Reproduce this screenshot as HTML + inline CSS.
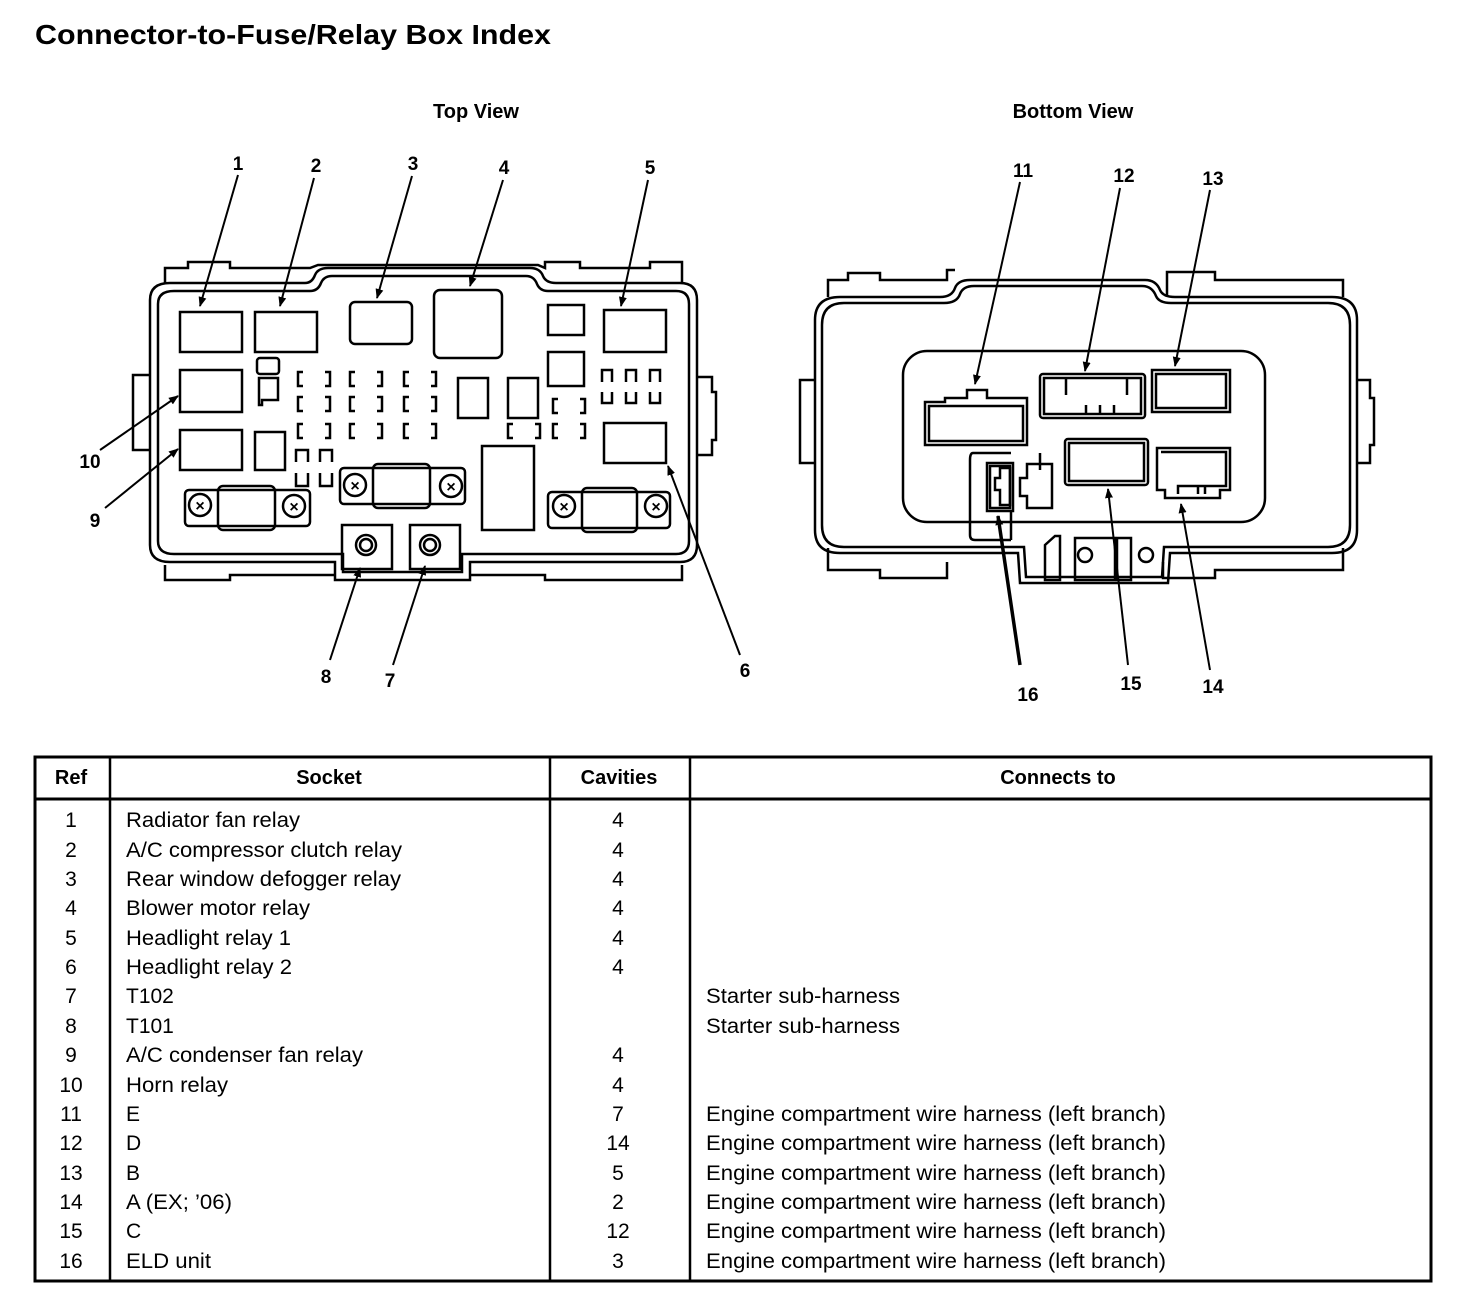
<!DOCTYPE html>
<html><head><meta charset="utf-8"><style>
html,body{margin:0;padding:0;background:#fff;}
svg{display:block;font-family:"Liberation Sans",Arial,sans-serif;}
</style></head><body>
<svg width="1472" height="1316" viewBox="0 0 1472 1316" xmlns="http://www.w3.org/2000/svg">
<defs><marker id="ah" markerWidth="10" markerHeight="10" refX="9" refY="5" orient="auto" markerUnits="userSpaceOnUse"><path d="M0,1 L10,5 L0,9 Z" fill="#000"/></marker></defs>
<text x="35" y="44" font-size="28" font-weight="bold" textLength="516" lengthAdjust="spacingAndGlyphs">Connector-to-Fuse/Relay Box Index</text>
<text x="476" y="118" font-size="20" font-weight="bold" text-anchor="middle">Top View</text>
<text x="1073" y="118" font-size="20" font-weight="bold" text-anchor="middle">Bottom View</text>

<!-- TOP VIEW -->
<g fill="none" stroke="#000" stroke-width="2.5">
<path d="M165,283 L165,268 L188,268 L188,262 L230,262 L230,268 L310,268 L318,265 L538,265 L545,268 L545,262 L580,262 L580,268 L650,268 L650,262 L682,262 L682,283"/>
<path d="M165,565 L165,580 L230,580 L230,575 L335,575 M470,575 L545,575 L545,580 L682,580 L682,565"/>
<path d="M170,283 L305,283 Q312,283 315,275 Q318,268 328,268 L530,268 Q540,268 543,276 Q546,283 556,283 L680,283 Q697,283 697,300 L697,545 Q697,562 680,562 L470,562 L470,580 L335,580 L335,562 L170,562 Q150,562 150,545 L150,300 Q150,283 170,283 Z"/>
<path d="M174,291 L310,291 Q318,291 321,283 Q324,276 332,276 L526,276 Q534,276 537,284 Q540,291 548,291 L676,291 Q689,291 689,304 L689,541 Q689,554 676,554 L462,554 L462,572 L343,572 L343,554 L174,554 Q158,554 158,541 L158,304 Q158,291 174,291 Z"/>
<path d="M150,375 L133,375 L133,450 L150,450"/>
<path d="M697,377 L712,377 L712,392 L716,392 L716,440 L712,440 L712,455 L697,455"/>
<rect x="180" y="312" width="62" height="40"/>
<rect x="255" y="312" width="62" height="40"/>
<rect x="350" y="302" width="62" height="42" rx="5"/>
<rect x="434" y="290" width="68" height="68" rx="6"/>
<rect x="548" y="305" width="36" height="30"/>
<rect x="548" y="352" width="36" height="34"/>
<rect x="604" y="310" width="62" height="42"/>
<rect x="180" y="370" width="62" height="42"/>
<rect x="180" y="430" width="62" height="40"/>
<rect x="255" y="432" width="30" height="38"/>
<rect x="257" y="358" width="22" height="16" rx="3"/>
<path d="M259,378 L278,378 L278,400 L262,400 L262,405 L259,405 Z"/>
<rect x="458" y="378" width="30" height="40"/>
<rect x="508" y="378" width="30" height="40"/>
<rect x="604" y="423" width="62" height="40"/>
<rect x="482" y="446" width="52" height="84"/>
<rect x="185" y="490" width="125" height="36" rx="4"/>
<rect x="218" y="486" width="57" height="44" rx="5"/>
<rect x="340" y="468" width="125" height="36" rx="4"/>
<rect x="373" y="464" width="57" height="44" rx="5"/>
<rect x="548" y="492" width="122" height="36" rx="4"/>
<rect x="582" y="488" width="55" height="44" rx="5"/>
<rect x="342" y="525" width="50" height="44"/>
<rect x="410" y="525" width="50" height="44"/>
</g>
<g fill="none" stroke="#000" stroke-width="2.5">
<circle cx="200" cy="505" r="11"/><circle cx="294" cy="506" r="11"/>
<circle cx="355" cy="485" r="11"/><circle cx="451" cy="486" r="11"/>
<circle cx="564" cy="506" r="11"/><circle cx="656" cy="506" r="11"/>
<circle cx="366" cy="545" r="10"/><circle cx="366" cy="545" r="6"/>
<circle cx="430" cy="545" r="10"/><circle cx="430" cy="545" r="6"/>
</g>
<g font-size="16" font-weight="bold" text-anchor="middle">
<text x="200" y="511">×</text><text x="294" y="512">×</text><text x="355" y="491">×</text><text x="451" y="492">×</text><text x="564" y="512">×</text><text x="656" y="512">×</text>
</g>
<g fill="none" stroke="#000" stroke-width="2.5">
<path id="fz" d="M303,372 L298,372 L298,386 L303,386 M325,372 L330,372 L330,386 L325,386"/>
<use href="#fz" x="0" y="25"/><use href="#fz" x="0" y="52"/>
<use href="#fz" x="52" y="0"/><use href="#fz" x="52" y="25"/><use href="#fz" x="52" y="52"/>
<use href="#fz" x="106" y="0"/><use href="#fz" x="106" y="25"/><use href="#fz" x="106" y="52"/>
<use href="#fz" x="210" y="52"/><use href="#fz" x="255" y="52"/><use href="#fz" x="255" y="27"/>
<path id="fv" d="M602,382 L602,370 L612,370 L612,382 M602,392 L602,403 L612,403 L612,392"/>
<use href="#fv" x="24" y="0"/><use href="#fv" x="48" y="0"/>
<path d="M296,462 L296,450 L308,450 L308,462 M296,473 L296,486 L308,486 L308,473"/>
<path d="M320,462 L320,450 L332,450 L332,462 M320,473 L320,486 L332,486 L332,473"/>
</g>
<g stroke="#000" stroke-width="2" marker-end="url(#ah)">
<line x1="238" y1="175" x2="200" y2="306"/>
<line x1="314" y1="178" x2="280" y2="306"/>
<line x1="412" y1="176" x2="377" y2="298"/>
<line x1="503" y1="180" x2="470" y2="286"/>
<line x1="648" y1="180" x2="621" y2="306"/>
<line x1="100" y1="450" x2="178" y2="396"/>
<line x1="105" y1="508" x2="178" y2="449"/>
<line x1="330" y1="660" x2="360" y2="568"/>
<line x1="393" y1="665" x2="425" y2="566"/>
<line x1="740" y1="655" x2="668" y2="466"/>
</g>
<g font-size="19" font-weight="bold" text-anchor="middle">
<text x="238" y="170">1</text><text x="316" y="172">2</text><text x="413" y="170">3</text><text x="504" y="174">4</text><text x="650" y="174">5</text>
<text x="90" y="468">10</text><text x="95" y="527">9</text><text x="326" y="683">8</text><text x="390" y="687">7</text><text x="745" y="677">6</text>
<text x="1023" y="177">11</text><text x="1124" y="182">12</text><text x="1213" y="185">13</text>
<text x="1028" y="701">16</text><text x="1131" y="690">15</text><text x="1213" y="693">14</text>
</g>

<!-- BOTTOM VIEW -->
<g fill="none" stroke="#000" stroke-width="2.5">
<path d="M828,297 L828,280 L848,280 L848,273 L880,273 L880,280 L947,280 L947,270 L955,270"/>
<path d="M1167,297 L1167,272 L1215,272 L1215,280 L1290,280 L1290,280 L1343,280 L1343,297"/>
<path d="M828,548 L828,570 L880,570 L880,578 L947,578 L947,562"/>
<path d="M1163,562 L1163,578 L1215,578 L1215,570 L1343,570 L1343,548"/>
<path d="M840,297 L940,297 Q952,297 955,288 Q958,280 970,280 L1145,280 Q1156,280 1160,290 Q1163,297 1175,297 L1332,297 Q1357,297 1357,320 L1357,530 Q1357,553 1332,553 L1170,553 L1168,583 L1020,583 L1018,553 L840,553 Q815,553 815,530 L815,320 Q815,297 840,297 Z"/>
<path d="M844,303 L944,303 Q957,303 960,294 Q963,286 974,286 L1142,286 Q1152,286 1156,296 Q1159,303 1171,303 L1328,303 Q1350,303 1350,325 L1350,525 Q1350,547 1328,547 L1164,547 L1162,577 L1026,577 L1024,547 L844,547 Q822,547 822,525 L822,325 Q822,303 844,303 Z"/>
<path d="M815,380 L800,380 L800,463 L815,463"/>
<path d="M1357,380 L1370,380 L1370,398 L1374,398 L1374,445 L1370,445 L1370,463 L1357,463"/>
<rect x="903" y="351" width="362" height="171" rx="24"/>
<path d="M925,402 L945,402 L945,398 L967,398 L967,390 L987,390 L987,398 L1027,398 L1027,445 L925,445 Z"/>
<rect x="929" y="406" width="94" height="35"/>
<rect x="1040" y="374" width="105" height="44" rx="3"/>
<rect x="1044" y="378" width="97" height="36"/>
<path d="M1066,378 L1066,395 M1127,378 L1127,395 M1086,405 L1086,414 M1100,405 L1100,414 M1114,405 L1114,414"/>
<rect x="1152" y="370" width="78" height="42"/>
<rect x="1156" y="374" width="70" height="34"/>
<rect x="1065" y="439" width="83" height="46" rx="3"/>
<rect x="1069" y="443" width="75" height="38"/>
<path d="M1157,448 L1230,448 L1230,490 L1220,490 L1220,498 L1165,498 L1165,490 L1157,490 Z"/>
<path d="M1161,452 L1226,452 L1226,486 L1178,486 L1178,494 M1198,486 L1198,494 M1205,486 L1205,494"/>
<path d="M1011,453 L973,453 Q970,453 970,460 L970,535 Q970,540 975,540 L1011,540"/>
<path d="M1011,540 L1011,512 M1040,453 L1040,470"/>
<rect x="987" y="463" width="26" height="48"/>
<rect x="990" y="466" width="20" height="42"/>
<path d="M1000,468 L1010,468 L1010,505 L1000,505 L1000,490 L995,490 L995,478 L1000,478 Z"/>
<path d="M1027,464 L1052,464 L1052,508 L1027,508 L1027,496 L1020,496 L1020,478 L1027,478 Z"/>
<path d="M1045,545 L1055,536 L1060,536 L1060,580 L1045,580 Z"/>
<rect x="1075" y="538" width="40" height="42"/><circle cx="1085" cy="555" r="7"/>
<rect x="1117" y="538" width="14" height="42"/><circle cx="1146" cy="555" r="7"/>
</g>
<g stroke="#000" stroke-width="2" marker-end="url(#ah)">
<line x1="1020" y1="182" x2="975" y2="384"/>
<line x1="1120" y1="188" x2="1085" y2="371"/>
<line x1="1210" y1="190" x2="1175" y2="366"/>
<line x1="1020" y1="665" x2="998" y2="516" stroke-width="3.5"/>
<line x1="1128" y1="665" x2="1108" y2="489"/>
<line x1="1210" y1="670" x2="1181" y2="504"/>
</g>

<!-- TABLE -->
<g fill="none" stroke="#000">
<rect x="35" y="757" width="1396" height="524" stroke-width="3"/>
<line x1="35" y1="799" x2="1431" y2="799" stroke-width="3"/>
<line x1="110" y1="757" x2="110" y2="1281" stroke-width="2.5"/>
<line x1="550" y1="757" x2="550" y2="1281" stroke-width="2.5"/>
<line x1="690" y1="757" x2="690" y2="1281" stroke-width="2.5"/>
</g>
<g font-size="20" font-weight="bold" text-anchor="middle">
<text x="71" y="784">Ref</text><text x="329" y="784">Socket</text><text x="619" y="784">Cavities</text><text x="1058" y="784">Connects to</text>
</g>
<g font-size="21">
<g text-anchor="middle">
<text x="71" y="827">1</text><text x="71" y="857">2</text><text x="71" y="886">3</text><text x="71" y="915">4</text><text x="71" y="945">5</text><text x="71" y="974">6</text><text x="71" y="1003">7</text><text x="71" y="1033">8</text><text x="71" y="1062">9</text><text x="71" y="1092">10</text><text x="71" y="1121">11</text><text x="71" y="1150">12</text><text x="71" y="1180">13</text><text x="71" y="1209">14</text><text x="71" y="1238">15</text><text x="71" y="1268">16</text>
<text x="618" y="827">4</text><text x="618" y="857">4</text><text x="618" y="886">4</text><text x="618" y="915">4</text><text x="618" y="945">4</text><text x="618" y="974">4</text><text x="618" y="1062">4</text><text x="618" y="1092">4</text><text x="618" y="1121">7</text><text x="618" y="1150">14</text><text x="618" y="1180">5</text><text x="618" y="1209">2</text><text x="618" y="1238">12</text><text x="618" y="1268">3</text>
</g>
<text x="126" y="827" textLength="174" lengthAdjust="spacingAndGlyphs">Radiator fan relay</text>
<text x="126" y="857" textLength="276" lengthAdjust="spacingAndGlyphs">A/C compressor clutch relay</text>
<text x="126" y="886" textLength="275" lengthAdjust="spacingAndGlyphs">Rear window defogger relay</text>
<text x="126" y="915" textLength="184" lengthAdjust="spacingAndGlyphs">Blower motor relay</text>
<text x="126" y="945" textLength="165" lengthAdjust="spacingAndGlyphs">Headlight relay 1</text>
<text x="126" y="974" textLength="166" lengthAdjust="spacingAndGlyphs">Headlight relay 2</text>
<text x="126" y="1003">T102</text>
<text x="126" y="1033">T101</text>
<text x="126" y="1062" textLength="237" lengthAdjust="spacingAndGlyphs">A/C condenser fan relay</text>
<text x="126" y="1092" textLength="102" lengthAdjust="spacingAndGlyphs">Horn relay</text>
<text x="126" y="1121">E</text>
<text x="126" y="1150">D</text>
<text x="126" y="1180">B</text>
<text x="126" y="1209" textLength="106" lengthAdjust="spacingAndGlyphs">A (EX; ’06)</text>
<text x="126" y="1238">C</text>
<text x="126" y="1268" textLength="85" lengthAdjust="spacingAndGlyphs">ELD unit</text>
<text x="706" y="1003" textLength="194" lengthAdjust="spacingAndGlyphs">Starter sub-harness</text>
<text x="706" y="1033" textLength="194" lengthAdjust="spacingAndGlyphs">Starter sub-harness</text>
<text x="706" y="1121" textLength="460" lengthAdjust="spacingAndGlyphs">Engine compartment wire harness (left branch)</text>
<text x="706" y="1150" textLength="460" lengthAdjust="spacingAndGlyphs">Engine compartment wire harness (left branch)</text>
<text x="706" y="1180" textLength="460" lengthAdjust="spacingAndGlyphs">Engine compartment wire harness (left branch)</text>
<text x="706" y="1209" textLength="460" lengthAdjust="spacingAndGlyphs">Engine compartment wire harness (left branch)</text>
<text x="706" y="1238" textLength="460" lengthAdjust="spacingAndGlyphs">Engine compartment wire harness (left branch)</text>
<text x="706" y="1268" textLength="460" lengthAdjust="spacingAndGlyphs">Engine compartment wire harness (left branch)</text>
</g>
</svg>
</body></html>
